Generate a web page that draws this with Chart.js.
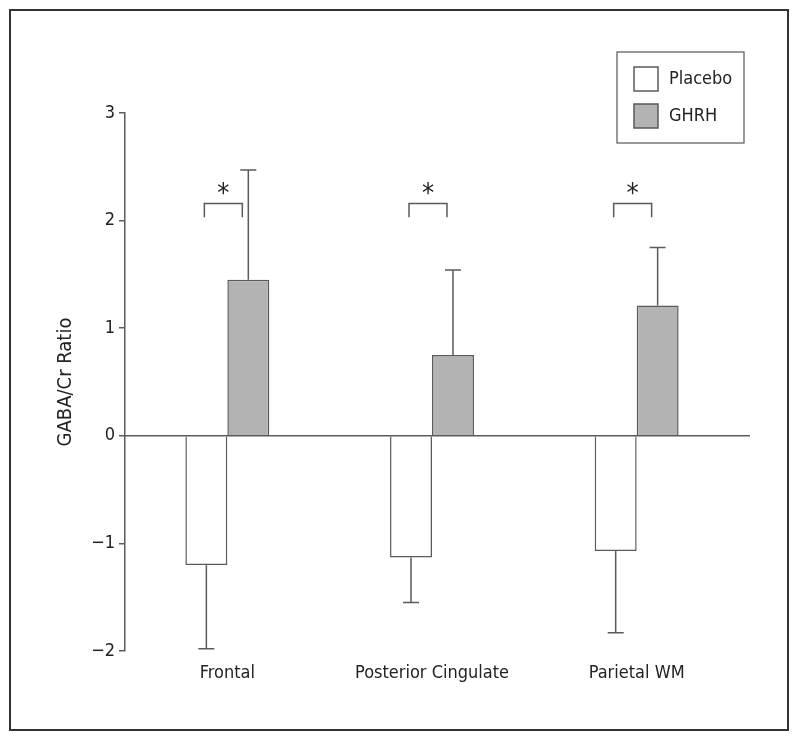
<!DOCTYPE html>
<html>
<head>
<meta charset="utf-8">
<script src="https://cdn.jsdelivr.net/npm/chart.js@4.4.1/dist/chart.umd.min.js"></script>
<style>
body { margin: 0; background: #fff; }
</style>
</head>
<body>
<canvas id="myChart" width="799" height="741"></canvas>
<script>
var regions = ['Frontal', 'Posterior Cingulate', 'Parietal WM'];
var placebo = [-1.20, -1.13, -1.07];
var placeboErr = [0.78, 0.42, 0.76];
var ghrh = [1.45, 0.75, 1.21];
var ghrhErr = [1.02, 0.79, 0.54];
var significance = ['*', '*', '*'];
var yTicks = [-2, -1, 0, 1, 2, 3];

var FONT = "'DejaVu Sans Condensed', 'Liberation Sans Narrow', sans-serif";
var INK = '#222';
var LINE = '#5a5a5a';

// frame, zero line, error bars, brackets and the boxed legend
var extras = {
    id: 'extras',
    afterDatasetsDraw: function(chart) {
        var ctx = chart.ctx;
        var y = chart.scales.y;
        var area = chart.chartArea;
        ctx.save();
        ctx.strokeStyle = LINE;
        ctx.lineWidth = 1.5;

        // zero line runs a bit past the last group
        var y0 = y.getPixelForValue(0);
        ctx.beginPath();
        ctx.moveTo(area.left, y0);
        ctx.lineTo(area.right + 11, y0);
        ctx.stroke();

        // one-sided error bars
        [[0, placebo, placeboErr], [1, ghrh, ghrhErr]].forEach(function(d) {
            chart.getDatasetMeta(d[0]).data.forEach(function(bar, i) {
                var v = d[1][i];
                var end = v < 0 ? v - d[2][i] : v + d[2][i];
                var yb = y.getPixelForValue(v);
                var ye = y.getPixelForValue(end);
                ctx.beginPath();
                ctx.moveTo(bar.x, yb);
                ctx.lineTo(bar.x, ye);
                ctx.moveTo(bar.x - 8, ye);
                ctx.lineTo(bar.x + 8, ye);
                ctx.stroke();
            });
        });

        // significance brackets
        var p = chart.getDatasetMeta(0).data;
        var g = chart.getDatasetMeta(1).data;
        var top = y.getPixelForValue(2.16);
        var leg = y.getPixelForValue(2.03);
        ctx.fillStyle = INK;
        ctx.textAlign = 'center';
        ctx.textBaseline = 'alphabetic';
        ctx.font = '27px ' + FONT;
        significance.forEach(function(s, i) {
            var l = p[i].x - 2, r = g[i].x - 6;
            ctx.beginPath();
            ctx.moveTo(l, leg);
            ctx.lineTo(l, top);
            ctx.lineTo(r, top);
            ctx.lineTo(r, leg);
            ctx.stroke();
            ctx.fillText(s, (l + r) / 2, top - 1);
        });

        // legend box
        ctx.strokeStyle = '#555';
        ctx.lineWidth = 1.2;
        ctx.strokeRect(617, 52, 127, 91);
        ctx.font = '18px ' + FONT;
        ctx.textAlign = 'left';
        ctx.textBaseline = 'middle';
        chart.data.datasets.forEach(function(ds, i) {
            var sy = 67 + i * 37;
            ctx.fillStyle = ds.backgroundColor;
            ctx.fillRect(634, sy, 24, 24);
            ctx.strokeStyle = LINE;
            ctx.lineWidth = 1.5;
            ctx.strokeRect(634, sy, 24, 24);
            ctx.fillStyle = INK;
            ctx.fillText(ds.label, 669, sy + 12);
        });

        // outer frame
        ctx.strokeStyle = '#333';
        ctx.lineWidth = 2;
        ctx.strokeRect(10, 10, 778, 720);
        ctx.restore();
    }
};

var ctx = document.getElementById('myChart').getContext('2d');

var chart = new Chart(ctx, {
    type: 'bar',
    data: {
        labels: regions,
        datasets: [{
            label: 'Placebo',
            data: placebo,
            backgroundColor: '#ffffff',
            borderColor: LINE,
            borderWidth: 1.5
        }, {
            label: 'GHRH',
            data: ghrh,
            backgroundColor: '#b3b3b3',
            borderColor: LINE,
            borderWidth: 1.5
        }]
    },
    options: {
        responsive: false,
        animation: false,
        categoryPercentage: 0.41,
        barPercentage: 1.0,
        layout: {
            padding: { left: 0, right: 60, top: 113, bottom: 0 }
        },
        scales: {
            x: {
                afterFit: function(s) { s.height = 90; },
                grid: { display: false, drawTicks: false },
                border: { display: false },
                ticks: { color: INK, font: { family: FONT, size: 18 }, padding: 12, maxRotation: 0 }
            },
            y: {
                min: -2,
                max: 3,
                afterFit: function(s) { s.width = 125; },
                afterBuildTicks: function(s) {
                    s.ticks = yTicks.map(function(v) { return { value: v }; });
                },
                ticks: {
                    color: INK,
                    padding: 4,
                    font: { family: FONT, size: 18 },
                    callback: function(v) { return String(v).replace('-', '\u2212'); }
                },
                grid: { drawOnChartArea: false, drawTicks: true, tickLength: 6, color: LINE, lineWidth: 1.5 },
                border: { display: true, color: LINE, width: 1.5 },
                title: {
                    display: true,
                    text: 'GABA/Cr Ratio',
                    color: INK,
                    font: { family: FONT, size: 20 },
                    padding: { top: 54, bottom: 0 }
                }
            }
        },
        plugins: {
            legend: { display: false },
            tooltip: { enabled: false }
        }
    },
    plugins: [extras]
});
</script>
</body>
</html>
